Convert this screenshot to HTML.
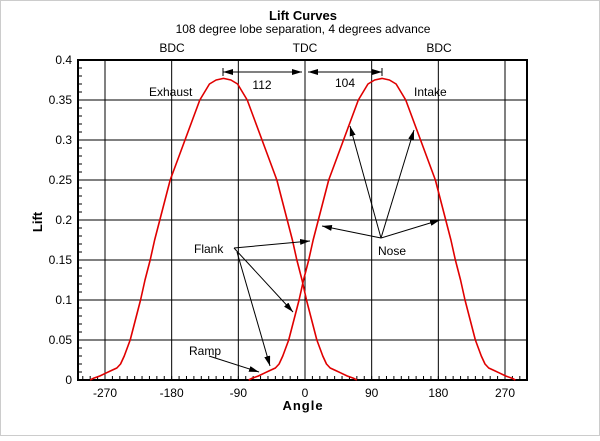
<!DOCTYPE html>
<html><head><meta charset="utf-8"><style>
body{margin:0;background:#fff}
svg text{font-family:"Liberation Sans",sans-serif;fill:#000}
</style></head><body>
<svg id="c" width="600" height="436" viewBox="0 0 600 436">
<defs><marker id="ah" viewBox="0 0 10 6" refX="10" refY="3" markerWidth="10" markerHeight="6" orient="auto" markerUnits="userSpaceOnUse"><path d="M0,0L10,3L0,6z" fill="#000"/></marker></defs>
<rect x="0.5" y="0.5" width="599" height="435" fill="#fff" stroke="#ccc"/>
<text x="303" y="20" text-anchor="middle" font-size="13" font-weight="bold">Lift Curves</text>
<text x="303" y="33" text-anchor="middle" font-size="12">108 degree lobe separation, 4 degrees advance</text>
<g id="grid"></g><g id="ticks"></g><g id="series"></g>
<text x="172" y="52" text-anchor="middle" font-size="12">BDC</text>
<text x="305" y="52" text-anchor="middle" font-size="12">TDC</text>
<text x="439" y="52" text-anchor="middle" font-size="12">BDC</text>
<g stroke="#000" stroke-width="1">
<line x1="223" y1="72" x2="302" y2="72" marker-end="url(#ah)"/><line x1="302" y1="72" x2="223" y2="72" marker-end="url(#ah)"/>
<line x1="308" y1="72" x2="382" y2="72" marker-end="url(#ah)"/><line x1="382" y1="72" x2="308" y2="72" marker-end="url(#ah)"/>
<line x1="223" y1="68" x2="223" y2="76"/><line x1="382" y1="68" x2="382" y2="76"/>
</g>
<text x="262" y="89" text-anchor="middle" font-size="12">112</text>
<text x="345" y="87" text-anchor="middle" font-size="12">104</text>
<text x="149" y="96" font-size="12">Exhaust</text>
<text x="414" y="96" font-size="12">Intake</text>
<g stroke="#000" stroke-width="1">
<line x1="234" y1="248" x2="310" y2="241" marker-end="url(#ah)"/>
<line x1="234" y1="248" x2="293" y2="312" marker-end="url(#ah)"/>
<line x1="237" y1="252" x2="270" y2="366" marker-end="url(#ah)"/>
<line x1="381" y1="238" x2="322" y2="226" marker-end="url(#ah)"/>
<line x1="381" y1="238" x2="350" y2="126" marker-end="url(#ah)"/>
<line x1="381" y1="238" x2="414" y2="130" marker-end="url(#ah)"/>
<line x1="381" y1="238" x2="440" y2="220" marker-end="url(#ah)"/>
<line x1="209" y1="356" x2="259" y2="372" marker-end="url(#ah)"/>
</g>
<text x="194" y="253" font-size="12">Flank</text>
<text x="378" y="255" font-size="12">Nose</text>
<text x="189" y="355" font-size="12">Ramp</text>
<text x="303" y="410" text-anchor="middle" font-size="13" font-weight="bold" letter-spacing="1">Angle</text>
<text x="42" y="222" text-anchor="middle" font-size="13" font-weight="bold" transform="rotate(-90 42 222)">Lift</text>
</svg>
<script>
const profileOffsets=[0,10,19,32,42,52,62,72,79,86,93,99,106,112,119,126,130,134,139,144,151,158,167,176,180];
const profileLift=[0.377,0.375,0.37,0.35,0.325,0.3,0.275,0.25,0.225,0.2,0.175,0.15,0.125,0.1,0.075,0.05,0.04,0.03,0.02,0.015,0.012,0.009,0.005,0.002,0];
const lobeCenters=[-110,104];
const lobeNames=['exhaust-curve','intake-curve'];
const xTicks=[-270,-180,-90,0,90,180,270];
const yTicks=[0,0.05,0.1,0.15,0.2,0.25,0.3,0.35,0.4];
const yTickLabels=['0','0.05','0.1','0.15','0.2','0.25','0.3','0.35','0.4'];
const xMin=-308,xMax=300,yMin=0,yMax=0.4;
const L=78,R=527,T=60,B=380;
const sx=v=>305+v*(200/270);
const sy=v=>B-(v-yMin)/(yMax-yMin)*(B-T);
const NS='http://www.w3.org/2000/svg';
function mk(t,a,p){const e=document.createElementNS(NS,t);for(const k in a)e.setAttribute(k,a[k]);p.appendChild(e);return e;}
const grid=document.getElementById('grid'),ticks=document.getElementById('ticks'),series=document.getElementById('series');
xTicks.forEach(v=>{const l=mk('line',{x1:sx(v),x2:sx(v),y1:T,y2:B,stroke:'#000','stroke-width':1},grid);


const t=mk('text',{x:sx(v),y:B+17,'text-anchor':'middle','font-size':12},ticks);t.textContent=v;

});
yTicks.forEach((v,i)=>{if(v>0&&v<yMax){const l=mk('line',{x1:L,x2:R,y1:sy(v),y2:sy(v),stroke:'#000','stroke-width':1},grid);

}
const t=mk('text',{x:L-6,y:sy(v)+4,'text-anchor':'end','font-size':12},ticks);t.textContent=yTickLabels[i];

});
let d='';
for(let a=-300;a<=300;a+=10){if(a>xMin&&a<xMax)d+=`M${sx(a)},${B}v-4`;}
for(let y=0.01;y<yMax;y+=0.01)d+=`M${L},${sy(y)}h4`;
const mt=mk('path',{d:d,stroke:'#000','stroke-width':1},ticks);


const ax=mk('rect',{x:L,y:T,width:R-L,height:B-T,fill:'none',stroke:'#000','stroke-width':2},ticks);


lobeCenters.forEach((c,k)=>{const pts=[];
for(let i=profileOffsets.length-1;i>=0;i--)pts.push([c-profileOffsets[i],profileLift[i]]);
for(let i=1;i<profileOffsets.length;i++)pts.push([c+profileOffsets[i],profileLift[i]]);
const p=mk('polyline',{points:pts.map(q=>sx(q[0])+','+sy(q[1])).join(' '),fill:'none',stroke:'#e00000','stroke-width':1.6,'stroke-linejoin':'round'},series);

});
</script>
</body></html>
